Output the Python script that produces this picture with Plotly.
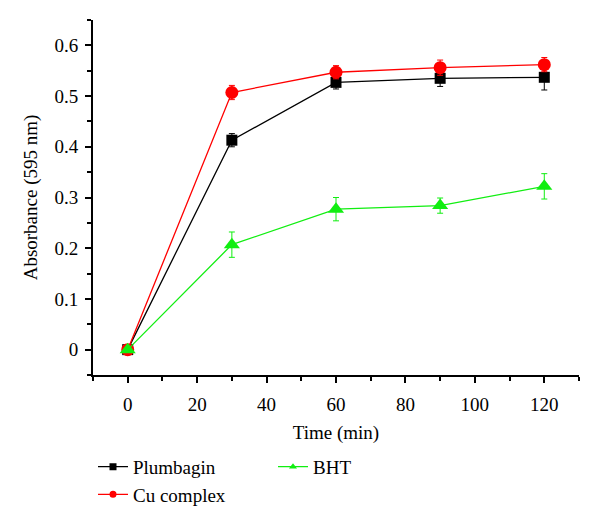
import plotly.graph_objects as go

time_min = [0, 30, 60, 90, 120]
plumbagin = [0.0, 0.413, 0.527, 0.535, 0.537]
plumbagin_err = [0.003, 0.013, 0.013, 0.016, 0.025]
cu_complex = [0.0, 0.507, 0.547, 0.556, 0.562]
cu_complex_err = [0.003, 0.014, 0.013, 0.015, 0.014]
bht = [0.0, 0.207, 0.277, 0.284, 0.322]
bht_err = [0.003, 0.025, 0.023, 0.015, 0.025]

series = [
    ("Plumbagin", plumbagin, plumbagin_err, "#000000", "square", 11, 1),
    ("Cu complex", cu_complex, cu_complex_err, "#ff0000", "circle", 13, 3),
    ("BHT", bht, bht_err, "#11ee11", "triangle-up", 14, 2),
]

fig = go.Figure()
for name, vals, errs, color, sym, size, rank in series:
    fig.add_trace(go.Scatter(
        x=time_min, y=vals, name=name, mode="lines+markers",
        line=dict(color=color, width=1.3),
        marker=dict(symbol=sym, size=size, color=color),
        error_y=dict(type="data", array=errs, visible=True, color=color,
                     thickness=1, width=3),
        showlegend=False,
    ))
# legend entries with smaller symbols
for name, vals, errs, color, sym, size, rank in series:
    fig.add_trace(go.Scatter(
        x=[None], y=[None], name=name, mode="lines+markers",
        line=dict(color=color, width=1.3),
        marker=dict(symbol=sym, size=7, color=color),
        legendrank=rank, showlegend=True,
    ))

font_family = "Liberation Serif"
fig.update_layout(
    width=600, height=526,
    margin=dict(l=93, r=21, t=20, b=143),
    plot_bgcolor="white", paper_bgcolor="white",
    font=dict(family=font_family, size=19, color="black"),
    showlegend=True,
    legend=dict(orientation="h", x=0.0, y=-0.205, xanchor="left", yanchor="top",
                entrywidth=135, tracegroupgap=0,
                font=dict(size=19), bgcolor="rgba(0,0,0,0)"),
)
fig.update_xaxes(
    range=[-10, 130], tickvals=[0, 20, 40, 60, 80, 100, 120],
    showline=True, linecolor="black", linewidth=2, mirror=False,
    ticks="outside", ticklen=6, tickwidth=2, tickcolor="black",
    minor=dict(tickvals=[-10, 10, 30, 50, 70, 90, 110, 130], ticks="outside",
               ticklen=4, tickwidth=1.5, tickcolor="black"),
    showgrid=False, zeroline=False, automargin=False,
    ticklabelstandoff=5,
    title=dict(text="Time (min)", font=dict(size=19), standoff=12),
    tickfont=dict(size=19, family=font_family),
)
fig.update_yaxes(
    range=[-0.05, 0.65], tickvals=[0, 0.1, 0.2, 0.3, 0.4, 0.5, 0.6],
    ticktext=["0", "0.1", "0.2", "0.3", "0.4", "0.5", "0.6"],
    showline=True, linecolor="black", linewidth=2, mirror=False,
    ticks="outside", ticklen=6, tickwidth=2, tickcolor="black",
    minor=dict(tickvals=[-0.05, 0.05, 0.15, 0.25, 0.35, 0.45, 0.55, 0.65],
               ticks="outside", ticklen=4, tickwidth=1.5, tickcolor="black"),
    showgrid=False, zeroline=False, automargin=False,
    ticklabelstandoff=3,
    title=dict(text="Absorbance (595 nm)", font=dict(size=19), standoff=12),
    tickfont=dict(size=19, family=font_family),
)

fig.write_html("out.html", config={"displayModeBar": False},
               post_script="document.body.style.margin='0px';")
